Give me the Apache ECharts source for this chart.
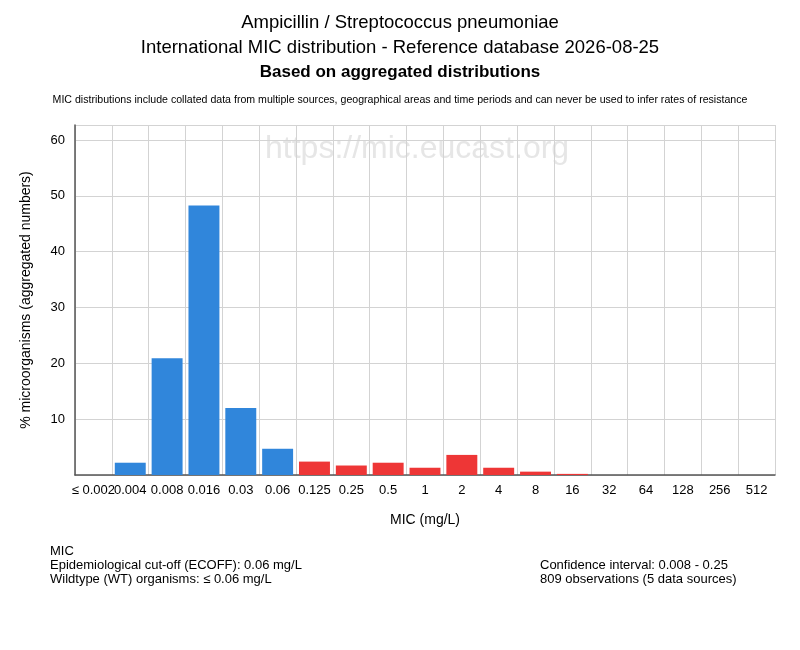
<!DOCTYPE html>
<html>
<head>
<meta charset="utf-8">
<script src="https://cdn.jsdelivr.net/npm/echarts@6/dist/echarts.min.js"></script>
<style>
  html, body { margin: 0; padding: 0; background: #fff; }
  #chart { width: 800px; height: 650px; }
</style>
</head>
<body>
<div id="chart"></div>
<script>
const micLabels = ["≤ 0.002", "0.004", "0.008", "0.016", "0.03", "0.06", "0.125", "0.25", "0.5",
  "1", "2", "4", "8", "16", "32", "64", "128", "256", "512"];
// % of isolates per MIC
const percents = [0, 2.2, 20.9, 48.3, 12.0, 4.7, 2.4, 1.7, 2.2, 1.3, 3.6, 1.3, 0.6, 0.2, 0, 0, 0, 0, 0];
// bars up to this index are wildtype (blue), the rest red
const wtLastIndex = 5;

const blue = "#3086DB";
const red = "#EE3636";
const font = "Liberation Sans, Arial, sans-serif";

const chart = echarts.init(document.getElementById("chart"), null, { renderer: "canvas" });

const option = {
  animation: false,
  title: [
    {
      text: "Ampicillin / Streptococcus pneumoniae",
      left: "center", top: 8,
      textStyle: { fontFamily: font, fontSize: 18.5, fontWeight: "normal", color: "#000" },
    },
    {
      text: "International MIC distribution - Reference database 2026-08-25",
      left: "center", top: 33,
      textStyle: { fontFamily: font, fontSize: 18.5, fontWeight: "normal", color: "#000" },
    },
    {
      text: "Based on aggregated distributions",
      left: "center", top: 59,
      textStyle: { fontFamily: font, fontSize: 17, fontWeight: "bold", color: "#000" },
    },
    {
      text: "MIC distributions include collated data from multiple sources, geographical areas and time periods and can never be used to infer rates of resistance",
      left: "center", top: 90,
      textStyle: { fontFamily: font, fontSize: 10.6, fontWeight: "normal", color: "#000" },
    },
  ],
  grid: { left: 75, right: 25, top: 125, bottom: 175 },
  xAxis: {
    type: "category",
    data: micLabels,
    name: "MIC (mg/L)",
    nameLocation: "middle",
    nameGap: 38,
    nameTextStyle: { fontFamily: font, fontSize: 14, color: "#000" },
    axisLine: { lineStyle: { color: "#555", width: 1.5 } },
    axisTick: { show: false },
    axisLabel: { fontFamily: font, fontSize: 13, color: "#000", interval: 0, margin: 9 },
    splitLine: { show: true, lineStyle: { color: "#d3d3d3", width: 1 } },
  },
  yAxis: {
    type: "value",
    min: 0,
    max: 62.7,
    interval: 10,
    name: "% microorganisms (aggregated numbers)",
    nameLocation: "middle",
    nameGap: 42,
    nameTextStyle: { fontFamily: font, fontSize: 14, color: "#000" },
    axisLine: { show: true, lineStyle: { color: "#555", width: 1.5 } },
    axisTick: { show: false },
    axisLabel: {
      fontFamily: font, fontSize: 13, color: "#000", margin: 10,
      showMaxLabel: false,
      formatter: (v) => (v === 0 ? "" : v),
    },
    splitLine: { lineStyle: { color: "#d3d3d3", width: 1 } },
  },
  series: [
    {
      type: "bar",
      barCategoryGap: "16%",
      data: percents.map((v, i) => ({
        value: v,
        itemStyle: { color: i <= wtLastIndex ? blue : red },
      })),
    },
  ],
  graphic: [
    {
      type: "text", left: 265, top: 133, z: -10,
      style: { text: "https://mic.eucast.org", fontFamily: font, fontSize: 32, fill: "#e6e6e6" },
    },
    {
      type: "text", left: 50, top: 544,
      style: {
        text: "MIC\nEpidemiological cut-off (ECOFF): 0.06 mg/L\nWildtype (WT) organisms: ≤ 0.06 mg/L",
        fontFamily: font, fontSize: 13, lineHeight: 14, fill: "#000",
      },
    },
    {
      type: "text", left: 540, top: 558,
      style: {
        text: "Confidence interval: 0.008 - 0.25\n809 observations (5 data sources)",
        fontFamily: font, fontSize: 13, lineHeight: 14, fill: "#000",
      },
    },
  ],
};

chart.setOption(option);
</script>
</body>
</html>
